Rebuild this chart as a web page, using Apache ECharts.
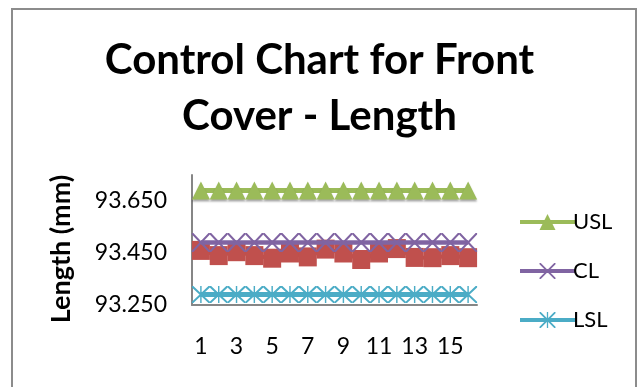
<!DOCTYPE html>
<html>
<head>
<meta charset="utf-8">
<script src="https://cdn.jsdelivr.net/npm/echarts@6/dist/echarts.min.js"></script>
<style>
  html, body { margin: 0; padding: 0; background: #fff; }
  #chart { width: 639px; height: 387px; }
</style>
</head>
<body>
<div id="chart"></div>
<script>
// Sample numbers on the x axis
const samples = ['1','2','3','4','5','6','7','8','9','10','11','12','13','14','15','16'];
// Measured front cover length (mm) per sample
const lengths = [93.46, 93.44, 93.455, 93.44, 93.43, 93.45, 93.435, 93.465, 93.45, 93.425, 93.45, 93.467, 93.433, 93.432, 93.44, 93.432];
// Specification limits and centre line
const usl = [93.69, 93.69, 93.69, 93.69, 93.69, 93.69, 93.69, 93.69, 93.69, 93.69, 93.69, 93.69, 93.69, 93.69, 93.69, 93.69];
const cl  = [93.49, 93.49, 93.49, 93.49, 93.49, 93.49, 93.49, 93.49, 93.49, 93.49, 93.49, 93.49, 93.49, 93.49, 93.49, 93.49];
const lsl = [93.29, 93.29, 93.29, 93.29, 93.29, 93.29, 93.29, 93.29, 93.29, 93.29, 93.29, 93.29, 93.29, 93.29, 93.29, 93.29];
const yTicks = { min: 93.25, max: 93.75, step: 0.2 };

const FONT = 'Lato';
// Cross marker (thin X) and asterisk marker (X plus vertical bar)
const crossPath = 'path://M0,0 L1.6,0 L10,8.4 L18.4,0 L20,0 L20,1.6 L11.6,10 L20,18.4 L20,20 L18.4,20 L10,11.6 L1.6,20 L0,20 L0,18.4 L8.4,10 L0,1.6 Z';
const starPath = 'path://M0,0 L1.6,0 L20,18.4 L20,20 L18.4,20 L0,1.6 Z M20,0 L20,1.6 L1.6,20 L0,20 L0,18.4 L18.4,0 Z M9.2,0 L10.8,0 L10.8,20 L9.2,20 Z';

const chart = echarts.init(document.getElementById('chart'), null, { renderer: 'canvas' });
chart.setOption({
  animation: false,
  backgroundColor: '#fff',
  graphic: [{
    type: 'rect',
    shape: { x: 12, y: 9, width: 624, height: 400 },
    style: { fill: 'none', stroke: '#8c8c8c', lineWidth: 2 },
    silent: true
  }],
  title: {
    text: 'Control Chart for Front\nCover - Length',
    left: 'center',
    top: 27,
    textStyle: { fontFamily: FONT, fontWeight: 'bold', fontSize: 42, lineHeight: 56, color: '#000' }
  },
  legend: {
    orient: 'vertical',
    left: 513,
    top: 206,
    itemWidth: 55,
    itemHeight: 20,
    itemGap: 27,
    data: ['USL', 'CL', 'LSL'],
    lineStyle: { width: 4 },
    textStyle: { fontFamily: FONT, fontSize: 22, color: '#000', padding: [0, 0, 0, -7] }
  },
  grid: { left: 192, right: 162, top: 175, bottom: 82, containLabel: false },
  xAxis: {
    type: 'category',
    data: samples,
    boundaryGap: true,
    axisLine: { lineStyle: { color: '#868686', width: 2 } },
    axisTick: { show: false },
    axisLabel: { interval: 1, fontFamily: FONT, fontSize: 23, color: '#000', margin: 30 }
  },
  yAxis: {
    type: 'value',
    min: yTicks.min,
    max: yTicks.max,
    interval: yTicks.step,
    name: 'Length (mm)',
    nameLocation: 'middle',
    nameGap: 117,
    nameTextStyle: { fontFamily: FONT, fontWeight: 'bold', fontSize: 27, color: '#000', padding: [0, 18, 0, 0] },
    splitLine: { show: false },
    axisLine: { show: true, lineStyle: { color: '#868686', width: 2 } },
    axisTick: { show: false },
    axisLabel: {
      showMaxLabel: false,
      fontFamily: FONT, fontSize: 23, color: '#000', margin: 25,
      formatter: v => v.toFixed(3)
    }
  },
  series: [
    {
      name: 'Length', type: 'line', data: lengths,
      symbol: 'rect', symbolSize: [18, 19], showAllSymbol: true,
      itemStyle: { color: '#C0504D' },
      lineStyle: { color: '#C0504D', width: 4 },
      z: 2
    },
    {
      name: 'USL', type: 'line', data: usl,
      symbol: 'triangle', symbolSize: [18, 18], showAllSymbol: true,
      itemStyle: { color: '#9BBB59', shadowColor: 'rgba(0,0,0,0.35)', shadowOffsetY: 2, shadowBlur: 2 },
      lineStyle: { color: '#9BBB59', width: 5 },
      z: 3
    },
    {
      name: 'CL', type: 'line', data: cl,
      symbol: crossPath, symbolSize: [18, 19], showAllSymbol: true,
      itemStyle: { color: '#8064A2' },
      lineStyle: { color: '#8064A2', width: 4.5 },
      z: 4
    },
    {
      name: 'LSL', type: 'line', data: lsl,
      symbol: starPath, symbolSize: [18, 17], showAllSymbol: true,
      itemStyle: { color: '#4BACC6' },
      lineStyle: { color: '#4BACC6', width: 5 },
      z: 4
    }
  ]
});
</script>
</body>
</html>
